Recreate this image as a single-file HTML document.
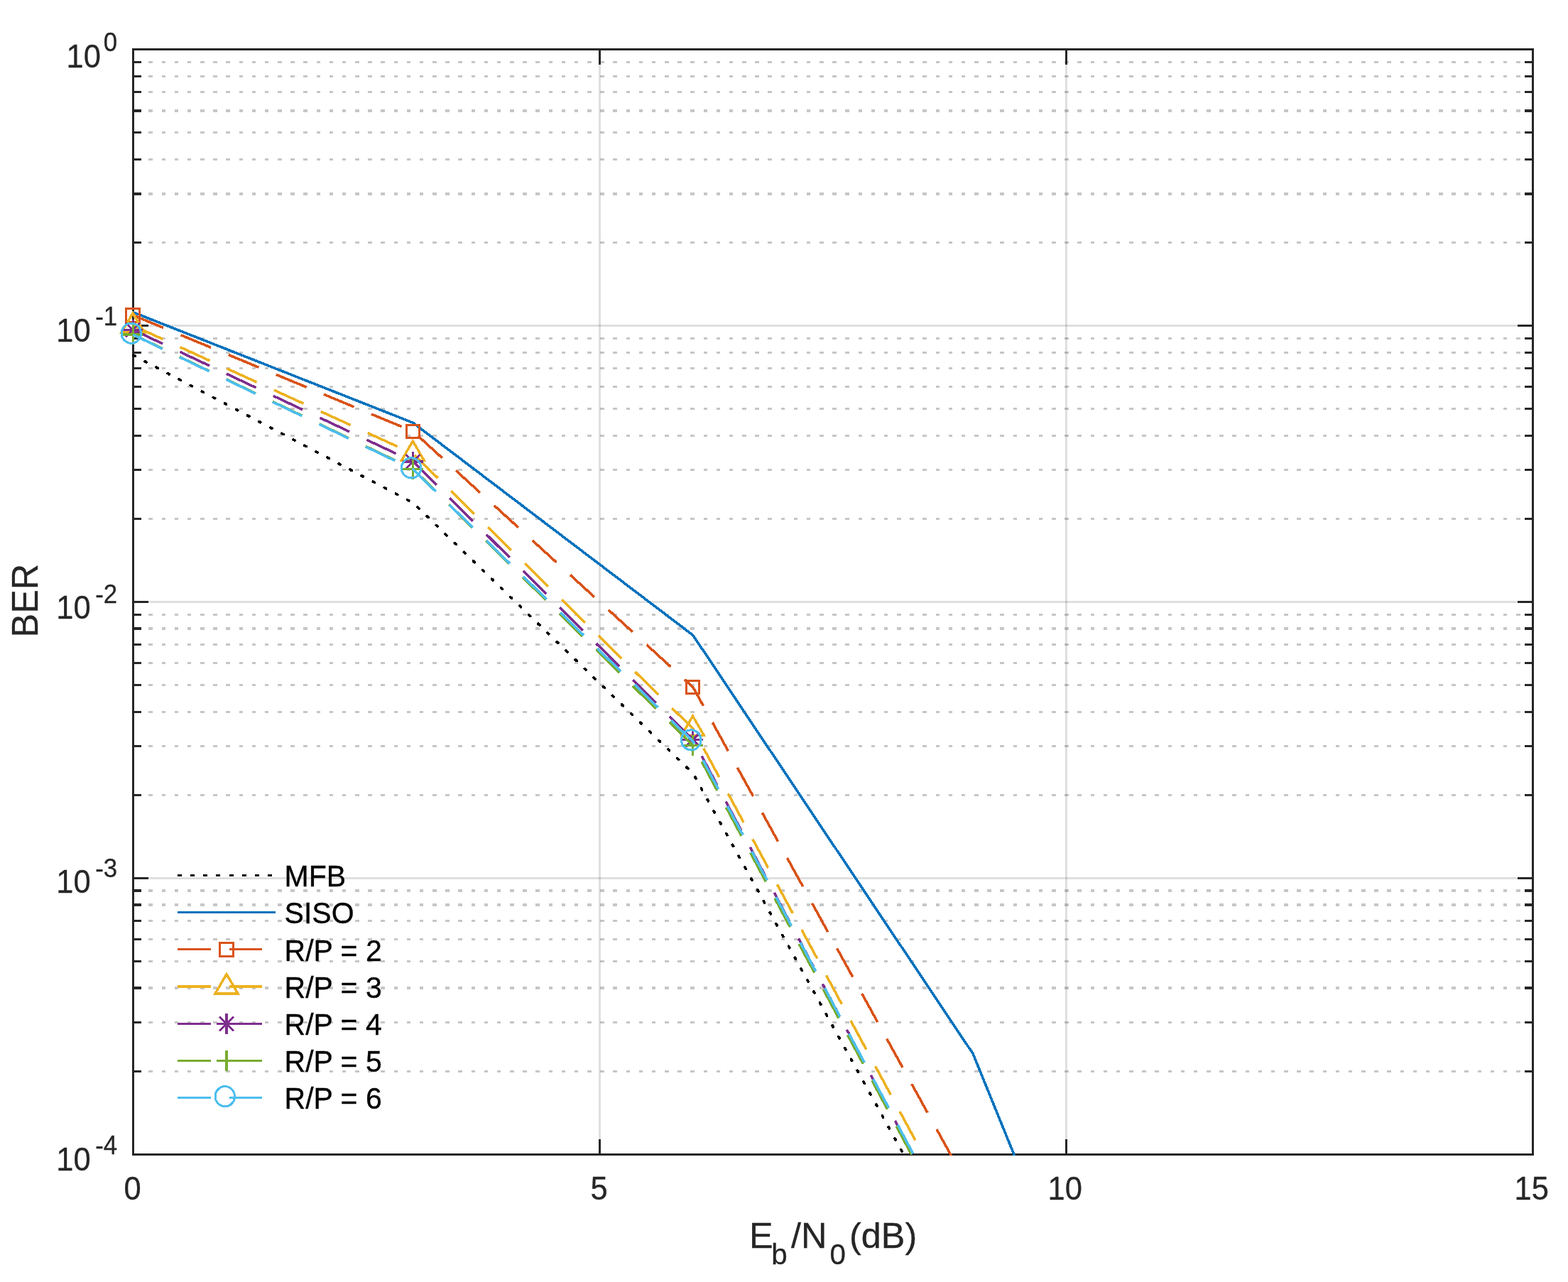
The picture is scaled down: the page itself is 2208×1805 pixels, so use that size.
<!DOCTYPE html>
<html lang="en"><head><meta charset="utf-8"><title>BER vs Eb/N0</title>
<style>html,body{margin:0;padding:0;background:#fff;}body{width:2208px;height:1805px;overflow:hidden;}svg{display:block;}text{font-family:"Liberation Sans",sans-serif;}</style>
</head><body>
<svg width="2208" height="1805" viewBox="0 0 2208 1805">
<rect width="2208" height="1805" fill="#ffffff"/>
<defs><clipPath id="ax"><rect x="186" y="68" width="1974" height="1559"/></clipPath></defs>
<g id="grid" shape-rendering="crispEdges"><path d="M191.2 341.5H2157M191.2 224.5H2157M191.2 186.5H2157M191.2 129.5H2157M191.2 107.5H2157M191.2 87.5H2157M191.2 730.5H2157M191.2 661.5H2157M191.2 613.5H2157M191.2 575.5H2157M191.2 544.5H2157M191.2 518.5H2157M191.2 496.5H2157M191.2 476.5H2157M191.2 1119.5H2157M191.2 1050.5H2157M191.2 1002.5H2157M191.2 964.5H2157M191.2 933.5H2157M191.2 907.5H2157M191.2 865.5H2157M191.2 1508.5H2157M191.2 1439.5H2157M191.2 1353.5H2157M191.2 1322.5H2157M191.2 1296.5H2157" fill="none" stroke="#c6c6c6" stroke-width="3" stroke-dasharray="5.5 12.6665"/><path d="M191.2 273H2157M191.2 156H2157M191.2 885H2157M191.2 1391H2157M191.2 1274H2157M191.2 1254H2157" fill="none" stroke="#c6c6c6" stroke-width="4" stroke-dasharray="5.5 12.6665"/><path d="M189 458.5H2157M189 847.5H2157M189 1236.5H2157" fill="none" stroke="#262626" stroke-opacity="0.15" stroke-width="3"/><path d="M844.5 71V1624M1501.5 71V1624" fill="none" stroke="#262626" stroke-opacity="0.15" stroke-width="3"/></g>
<g id="axes" fill="none" stroke="#262626" shape-rendering="crispEdges"><path d="M189 341.5H199M189 224.5H199M189 186.5H199M189 129.5H199M189 107.5H199M189 87.5H199M189 730.5H199M189 661.5H199M189 613.5H199M189 575.5H199M189 544.5H199M189 518.5H199M189 496.5H199M189 476.5H199M189 1119.5H199M189 1050.5H199M189 1002.5H199M189 964.5H199M189 933.5H199M189 907.5H199M189 865.5H199M189 1508.5H199M189 1439.5H199M189 1353.5H199M189 1322.5H199M189 1296.5H199" stroke-width="3"/><path d="M189 273H199M189 156H199M189 885H199M189 1391H199M189 1274H199M189 1254H199" stroke-width="4"/><path d="M2157 341.5H2147M2157 224.5H2147M2157 186.5H2147M2157 129.5H2147M2157 107.5H2147M2157 87.5H2147M2157 730.5H2147M2157 661.5H2147M2157 613.5H2147M2157 575.5H2147M2157 544.5H2147M2157 518.5H2147M2157 496.5H2147M2157 476.5H2147M2157 1119.5H2147M2157 1050.5H2147M2157 1002.5H2147M2157 964.5H2147M2157 933.5H2147M2157 907.5H2147M2157 865.5H2147M2157 1508.5H2147M2157 1439.5H2147M2157 1353.5H2147M2157 1322.5H2147M2157 1296.5H2147" stroke-width="3"/><path d="M2157 273H2147M2157 156H2147M2157 885H2147M2157 1391H2147M2157 1274H2147M2157 1254H2147" stroke-width="4"/><path d="M189 458.5H209M189 847.5H209M189 1236.5H209" stroke-width="3"/><path d="M2157 458.5H2137M2157 847.5H2137M2157 1236.5H2137" stroke-width="3"/><path d="M844.5 1624V1604M1501.5 1624V1604M844.5 71V91M1501.5 71V91" stroke-width="3"/><rect x="187.5" y="69.5" width="1971" height="1556" stroke-width="3"/></g>
<g id="series" shape-rendering="crispEdges"><path d="M187.5 500L581.7 708L975.9 1089L1370.1 1801.67" fill="none" stroke="#000000" stroke-width="3.8" stroke-linejoin="round" stroke-dasharray="2.4 15.7665" stroke-dashoffset="-0.5" stroke-linecap="round" clip-path="url(#ax)"/><path d="M187.5 439.7L581.7 595.3L975.9 894.4L1370.1 1483.6L1764.3 2450.69" fill="none" stroke="#0072BD" stroke-width="3.6" stroke-linejoin="round" clip-path="url(#ax)"/><path d="M187.5 443.9L581.7 607.4L975.9 967.5L1370.1 1682.73" fill="none" stroke="#D95319" stroke-width="3.6" stroke-linejoin="round" stroke-dasharray="46 26.666" clip-path="url(#ax)"/><g fill="none" stroke="#D95319" stroke-width="3.1" stroke-linejoin="miter"><rect x="177.9" y="434.7" width="18.4" height="18.4"/></g><g fill="none" stroke="#D95319" stroke-width="3.1" stroke-linejoin="miter"><rect x="572.1" y="598.2" width="18.4" height="18.4"/></g><g fill="none" stroke="#D95319" stroke-width="3.1" stroke-linejoin="miter"><rect x="966.3" y="958.3" width="18.4" height="18.4"/></g><path d="M187.5 458.5L581.7 638.8L975.9 1026L1370.1 1755.72" fill="none" stroke="#EDB120" stroke-width="3.6" stroke-linejoin="round" stroke-dasharray="46 26.666" clip-path="url(#ax)"/><g fill="none" stroke="#EDB120" stroke-width="3.5" stroke-linejoin="miter"><path d="M171.2 468.09L203 468.09L187.1 440.69Z"/></g><g fill="none" stroke="#EDB120" stroke-width="3.5" stroke-linejoin="miter"><path d="M565.4 648.39L597.2 648.39L581.3 620.99Z"/></g><g fill="none" stroke="#EDB120" stroke-width="3.5" stroke-linejoin="miter"><path d="M959.6 1035.59L991.4 1035.59L975.5 1008.19Z"/></g><path d="M187.5 464.4L581.7 650L975.9 1041.4L1370.1 1784.5" fill="none" stroke="#7E2F8E" stroke-width="3.6" stroke-linejoin="round" stroke-dasharray="46 26.666" clip-path="url(#ax)"/><g fill="none" stroke="#7E2F8E" stroke-width="3.1" stroke-linejoin="miter"><path d="M172.9 464.4H201.3M187.1 450.2V478.6M177.2 454.5L197 474.3M177.2 474.3L197 454.5"/></g><g fill="none" stroke="#7E2F8E" stroke-width="3.1" stroke-linejoin="miter"><path d="M567.1 650H595.5M581.3 635.8V664.2M571.4 640.1L591.2 659.9M571.4 659.9L591.2 640.1"/></g><g fill="none" stroke="#7E2F8E" stroke-width="3.1" stroke-linejoin="miter"><path d="M961.3 1041.4H989.7M975.5 1027.2V1055.6M965.6 1031.5L985.4 1051.3M965.6 1051.3L985.4 1031.5"/></g><path d="M187.5 471L581.7 660.4L975.9 1049.4L1370.1 1787.56" fill="none" stroke="#77AC30" stroke-width="3.6" stroke-linejoin="round" stroke-dasharray="46 26.666" clip-path="url(#ax)"/><g fill="none" stroke="#77AC30" stroke-width="3.1" stroke-linejoin="miter"><path d="M172.8 471H201.4M187.1 456.7V485.3"/></g><g fill="none" stroke="#77AC30" stroke-width="3.1" stroke-linejoin="miter"><path d="M567 660.4H595.6M581.3 646.1V674.7"/></g><g fill="none" stroke="#77AC30" stroke-width="3.1" stroke-linejoin="miter"><path d="M961.2 1049.4H989.8M975.5 1035.1V1063.7"/></g><path d="M187.5 471.3L581.7 661L975.9 1044L1370.1 1782.13" fill="none" stroke="#4DBEEE" stroke-width="3.6" stroke-linejoin="round" stroke-dasharray="46 26.666" clip-path="url(#ax)"/><g fill="none" stroke="#4DBEEE" stroke-width="3.1" stroke-linejoin="miter"><ellipse cx="184.9" cy="469.2" rx="13.75" ry="14.1"/></g><g fill="none" stroke="#4DBEEE" stroke-width="3.1" stroke-linejoin="miter"><ellipse cx="579.1" cy="658.9" rx="13.75" ry="14.1"/></g><g fill="none" stroke="#4DBEEE" stroke-width="3.1" stroke-linejoin="miter"><ellipse cx="973.3" cy="1041.9" rx="13.75" ry="14.1"/></g></g>
<g id="legend" shape-rendering="crispEdges"><path d="M250 1232.5H388" fill="none" stroke="#000000" stroke-width="3" stroke-dasharray="6 12.1665"/><path d="M250 1284.5H388" fill="none" stroke="#0072BD" stroke-width="3"/><path d="M250 1336.5H388" fill="none" stroke="#D95319" stroke-width="3" stroke-dasharray="46.6 26.066"/><g fill="none" stroke="#D95319" stroke-width="3.1" stroke-linejoin="miter"><rect x="309.8" y="1327.93" width="18.4" height="18.4"/></g><path d="M250 1389H388" fill="none" stroke="#EDB120" stroke-width="4" stroke-dasharray="46.6 26.066"/><g fill="none" stroke="#EDB120" stroke-width="3.5" stroke-linejoin="miter"><path d="M303.1 1398.89L334.9 1398.89L319 1371.49Z"/></g><path d="M250 1441.5H388" fill="none" stroke="#7E2F8E" stroke-width="3" stroke-dasharray="46.6 26.066"/><g fill="none" stroke="#7E2F8E" stroke-width="3.1" stroke-linejoin="miter"><path d="M304.8 1441.47H333.2M319 1427.27V1455.67M309.1 1431.57L328.9 1451.37M309.1 1451.37L328.9 1431.57"/></g><path d="M250 1493.5H388" fill="none" stroke="#77AC30" stroke-width="3" stroke-dasharray="46.6 26.066"/><g fill="none" stroke="#77AC30" stroke-width="3.1" stroke-linejoin="miter"><path d="M304.7 1493.63H333.3M319 1479.34V1507.93"/></g><path d="M250 1545.5H388" fill="none" stroke="#4DBEEE" stroke-width="3" stroke-dasharray="46.6 26.066"/><g fill="none" stroke="#4DBEEE" stroke-width="3.1" stroke-linejoin="miter"><ellipse cx="316.8" cy="1543.7" rx="13.75" ry="14.1"/></g></g>
<g id="legendtext" fill="#000000" stroke="#000000" stroke-width="0.35"><text transform="translate(400.6 1248) scale(1 1.06)" font-size="41">MFB</text><text transform="translate(400.6 1300) scale(1 1.06)" font-size="41">SISO</text><text transform="translate(400.6 1353) scale(1 1.06)" font-size="41">R/P = 2</text><text transform="translate(400.6 1405) scale(1 1.06)" font-size="41">R/P = 3</text><text transform="translate(400.6 1457) scale(1 1.06)" font-size="41">R/P = 4</text><text transform="translate(400.6 1509) scale(1 1.06)" font-size="41">R/P = 5</text><text transform="translate(400.6 1561) scale(1 1.06)" font-size="41">R/P = 6</text></g>
<g id="ticklabels" fill="#262626" stroke="#262626" stroke-width="0.3"><text transform="translate(186.7 1689) scale(0.95 1)" font-size="45.83" text-anchor="middle">0</text><text transform="translate(843.7 1689) scale(0.95 1)" font-size="45.83" text-anchor="middle">5</text><text transform="translate(1499.7 1689) scale(0.95 1)" font-size="45.83" text-anchor="middle">10</text><text transform="translate(2156.7 1689) scale(0.95 1)" font-size="45.83" text-anchor="middle">15</text><text transform="translate(141.85 95) scale(0.95 1)" font-size="45.83" text-anchor="end">10</text><text transform="translate(165.2 71.5) scale(0.95 1)" font-size="36.66" text-anchor="end">0</text><text transform="translate(127.7 480.9) scale(0.95 1)" font-size="45.83" text-anchor="end">10</text><text transform="translate(165.2 457.9) scale(0.95 1)" font-size="36.66" text-anchor="end">-1</text><text transform="translate(127.7 870.9) scale(0.95 1)" font-size="45.83" text-anchor="end">10</text><text transform="translate(165.2 849) scale(0.95 1)" font-size="36.66" text-anchor="end">-2</text><text transform="translate(127.7 1256.9) scale(0.95 1)" font-size="45.83" text-anchor="end">10</text><text transform="translate(165.2 1234.9) scale(0.95 1)" font-size="36.66" text-anchor="end">-3</text><text transform="translate(127.7 1647.9) scale(0.95 1)" font-size="45.83" text-anchor="end">10</text><text transform="translate(165.2 1624.9) scale(0.95 1)" font-size="36.66" text-anchor="end">-4</text></g>
<g id="axislabels" fill="#262626" stroke="#262626" stroke-width="0.3">
<text transform="translate(53 845.6) rotate(-90) scale(1 1.035)" font-size="50.42" text-anchor="middle">BER</text>
<text y="1757" font-size="50.42"><tspan x="1055">E</tspan><tspan x="1086.3" y="1779.8" font-size="40.34">b</tspan><tspan x="1113.9" y="1757">/N</tspan><tspan x="1168.5" y="1779.8" font-size="40.34">0</tspan><tspan x="1196" y="1757">(dB)</tspan></text>
</g>
</svg>
</body></html>
